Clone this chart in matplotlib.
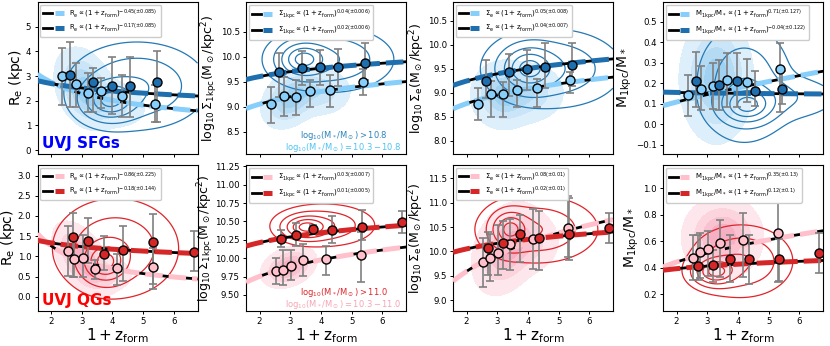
import numpy as np
import matplotlib
matplotlib.use('Agg')
import matplotlib.pyplot as plt
from matplotlib.legend_handler import HandlerTuple

# ---- data ----
# formation redshift bins (1 + z_form)
x_sf_lo = [2.37, 2.80, 3.19, 3.63, 4.31, 5.37]
x_sf_hi = [2.63, 3.37, 3.97, 4.57, 5.44]
x_q_lo = [2.54, 2.76, 3.04, 3.42, 4.16, 5.32]
x_q_hi = [2.71, 3.20, 3.74, 4.35, 5.33, 6.65]

# SFGs: Re
re_sf_lo = [3.00, 2.67, 2.32, 2.39, 2.20, 1.85]
re_sf_lo_p16 = [1.82, 1.73, 1.55, 1.69, 1.35, 1.12]
re_sf_lo_p84 = [4.14, 3.51, 3.13, 2.93, 3.04, 2.65]
re_sf_hi = [3.05, 2.77, 2.60, 2.60, 2.77]
re_sf_hi_p16 = [1.73, 1.53, 1.45, 1.35, 1.12]
re_sf_hi_p84 = [4.36, 3.31, 3.78, 3.78, 4.00]
# SFGs: Sigma_1kpc
s1_sf_lo = [9.05, 9.21, 9.20, 9.31, 9.33, 9.50]
s1_sf_lo_p16 = [8.68, 8.81, 8.83, 9.00, 9.00, 9.23]
s1_sf_lo_p84 = [9.39, 9.60, 9.53, 9.53, 9.63, 9.75]
s1_sf_hi = [9.70, 9.77, 9.79, 9.79, 9.88]
s1_sf_hi_p16 = [9.20, 9.43, 9.43, 9.41, 9.53]
s1_sf_hi_p84 = [10.07, 10.12, 10.13, 10.15, 10.27]
# SFGs: Sigma_e
se_sf_lo = [8.76, 8.97, 8.97, 9.06, 9.09, 9.26]
se_sf_lo_p16 = [8.42, 8.50, 8.50, 8.71, 8.71, 8.99]
se_sf_lo_p84 = [9.09, 9.24, 9.23, 9.26, 9.28, 9.44]
se_sf_hi = [9.24, 9.44, 9.49, 9.54, 9.58]
se_sf_hi_p16 = [8.88, 8.94, 9.06, 9.09, 9.13]
se_sf_hi_p84 = [9.68, 9.80, 9.88, 10.03, 10.03]
# SFGs: M1kpc/M*
m1_sf_lo = [0.143, 0.171, 0.187, 0.216, 0.206, 0.270]
m1_sf_lo_p16 = [0.043, 0.070, 0.074, 0.083, 0.110, 0.062]
m1_sf_lo_p84 = [0.240, 0.284, 0.300, 0.349, 0.317, 0.395]
m1_sf_hi = [0.210, 0.192, 0.211, 0.164, 0.171]
m1_sf_hi_p16 = [0.083, 0.070, 0.083, 0.090, 0.100]
m1_sf_hi_p84 = [0.354, 0.314, 0.349, 0.260, 0.260]

# QGs: Re
re_q_lo = [1.14, 0.94, 0.96, 0.68, 0.71, 0.75]
re_q_lo_p16 = [0.52, 0.50, 0.50, 0.45, 0.30, 0.19]
re_q_lo_p84 = [1.76, 1.45, 1.53, 0.92, 1.06, 1.20]
re_q_hi = [1.49, 1.39, 1.06, 1.16, 1.35, 1.12]
re_q_hi_p16 = [0.50, 0.83, 0.67, 0.40, 0.31, 0.63]
re_q_hi_p84 = [2.07, 1.96, 1.51, 1.76, 2.05, 1.63]
# QGs: Sigma_1kpc
s1_q_lo = [9.83, 9.84, 9.89, 9.98, 9.99, 10.05]
s1_q_lo_p16 = [9.65, 9.64, 9.70, 9.76, 9.77, 9.67]
s1_q_lo_p84 = [10.00, 10.11, 10.11, 10.20, 10.16, 10.35]
s1_q_hi = [10.26, 10.31, 10.40, 10.38, 10.43, 10.49]
s1_q_hi_p16 = [10.15, 10.16, 10.34, 10.21, 10.25, 10.34]
s1_q_hi_p84 = [10.39, 10.48, 10.45, 10.57, 10.65, 10.64]
# QGs: Sigma_e
se_q_lo = [9.78, 9.87, 9.97, 10.15, 10.25, 10.47]
se_q_lo_p16 = [9.27, 9.40, 9.52, 9.62, 9.64, 9.89]
se_q_lo_p84 = [10.28, 10.35, 10.55, 10.66, 10.86, 11.14]
se_q_hi = [10.06, 10.17, 10.35, 10.28, 10.35, 10.49]
se_q_hi_p16 = [9.51, 9.65, 9.79, 9.62, 9.82, 10.18]
se_q_hi_p84 = [10.39, 10.62, 10.75, 10.83, 11.10, 10.78]
# QGs: M1kpc/M*
m1_q_lo = [0.476, 0.522, 0.540, 0.590, 0.610, 0.665]
m1_q_lo_p16 = [0.31, 0.32, 0.34, 0.33, 0.33, 0.295]
m1_q_lo_p84 = [0.65, 0.66, 0.68, 0.76, 0.81, 0.90]
m1_q_hi = [0.416, 0.420, 0.466, 0.466, 0.466, 0.514]
m1_q_hi_p16 = [0.31, 0.295, 0.29, 0.28, 0.30, 0.36]
m1_q_hi_p84 = [0.65, 0.535, 0.65, 0.65, 0.62, 0.66]

# power-law fits y = amp * (1+z)^slope ; label exponent text
fit_amp = [[3.756, 3.032], [8.803, 9.439], [8.473, 8.989], [0.0666, 0.160],
           [2.293, 1.512], [9.531, 10.08], [9.037, 9.86], [0.348, 0.362]]
fit_slope = [[-0.45, -0.17], [0.04, 0.025], [0.05, 0.04], [0.71, -0.04],
             [-0.86, -0.18], [0.033, 0.0188], [0.086, 0.0278], [0.35, 0.12]]
fit_text = [['-0.45(\\pm0.085)', '-0.17(\\pm0.085)'],
            ['0.04(\\pm0.006)', '0.02(\\pm0.006)'],
            ['0.05(\\pm0.008)', '0.04(\\pm0.007)'],
            ['0.71(\\pm0.127)', '-0.04(\\pm0.122)'],
            ['-0.86(\\pm0.225)', '-0.18(\\pm0.144)'],
            ['0.03(\\pm0.007)', '0.01(\\pm0.005)'],
            ['0.08(\\pm0.01)', '0.02(\\pm0.01)'],
            ['0.35(\\pm0.13)', '0.12(\\pm0.1)']]

# density blobs (cx, cy, sx, sy, rho, weight) approximating the KDE contours
blob_fill = [
    [(3.1, 2.5, 0.42, 0.7, -0.3, 1.0), (3.9, 1.9, 0.55, 0.45, -0.2, 0.5)],
    [(3.0, 9.15, 0.4, 0.25, 0.3, 1.0), (3.9, 9.3, 0.5, 0.22, 0.0, 0.5)],
    [(3.2, 8.95, 0.45, 0.3, 0.0, 1.0), (4.1, 9.0, 0.5, 0.28, 0.0, 0.5)],
    [(3.3, 0.22, 0.5, 0.13, 0.0, 1.0)],
    [(3.0, 0.95, 0.4, 0.38, -0.5, 1.0), (3.7, 0.55, 0.45, 0.22, 0.0, 0.4)],
    [(2.95, 9.88, 0.38, 0.12, 0.3, 1.0)],
    [(3.3, 10.05, 0.48, 0.4, 0.3, 1.0), (4.0, 10.2, 0.5, 0.3, 0.0, 0.4)],
    [(3.5, 0.63, 0.55, 0.13, 0.0, 1.0)],
]
blob_line = [
    [(3.9, 2.0, 0.5, 0.45, 0.0, 1.0), (4.8, 2.6, 1.1, 0.85, 0.0, 0.45)],
    [(3.4, 9.95, 0.45, 0.2, 0.0, 1.0), (4.3, 9.95, 1.0, 0.32, 0.0, 0.45)],
    [(4.0, 9.5, 0.5, 0.27, 0.0, 1.0), (4.8, 9.5, 1.1, 0.4, 0.0, 0.45)],
    [(4.3, 0.09, 0.5, 0.05, 0.0, 1.0), (4.2, 0.2, 0.75, 0.14, 0.0, 0.45), (5.5, 0.13, 1.0, 0.06, 0.0, 0.2)],
    [(3.75, 0.85, 0.4, 0.28, 0.0, 1.0), (4.1, 1.2, 1.0, 0.6, 0.0, 0.45)],
    [(3.5, 10.42, 0.4, 0.09, 0.0, 1.0), (4.1, 10.45, 0.8, 0.14, 0.0, 0.45)],
    [(3.4, 10.45, 0.35, 0.22, 0.0, 1.0), (4.3, 10.45, 0.95, 0.33, 0.0, 0.45)],
    [(3.25, 0.37, 0.4, 0.06, 0.0, 1.0), (4.1, 0.45, 0.8, 0.13, 0.0, 0.45)],
]

ylims = [(-0.16, 6.0), (8.05, 11.1), (7.72, 10.89), (-0.144, 0.596),
         (-0.35, 3.26), (9.28, 11.27), (8.78, 11.77), (0.074, 1.176)]
yticks = [np.arange(0, 5.1, 1), np.arange(8.5, 10.6, 0.5), np.arange(8.0, 10.6, 0.5),
          np.arange(-0.1, 0.51, 0.1), np.arange(0, 3.01, 0.5), np.arange(9.5, 11.26, 0.25),
          np.arange(9.0, 11.51, 0.5), np.arange(0.2, 1.01, 0.2)]
ylabels = [r'$\mathrm{R_e\ (kpc)}$',
           r'$\mathrm{log_{10}\,\Sigma_{1kpc}(M_\odot/kpc^2)}$',
           r'$\mathrm{log_{10}\,\Sigma_e(M_\odot/kpc^2)}$',
           r'$\mathrm{M_{1kpc}/M_*}$']
qty = [r'R_e', r'\Sigma_{1kpc}', r'\Sigma_e', r'M_{1kpc}/M_*']

pts = [
    (x_sf_lo, re_sf_lo, re_sf_lo_p16, re_sf_lo_p84, x_sf_hi, re_sf_hi, re_sf_hi_p16, re_sf_hi_p84),
    (x_sf_lo, s1_sf_lo, s1_sf_lo_p16, s1_sf_lo_p84, x_sf_hi, s1_sf_hi, s1_sf_hi_p16, s1_sf_hi_p84),
    (x_sf_lo, se_sf_lo, se_sf_lo_p16, se_sf_lo_p84, x_sf_hi, se_sf_hi, se_sf_hi_p16, se_sf_hi_p84),
    (x_sf_lo, m1_sf_lo, m1_sf_lo_p16, m1_sf_lo_p84, x_sf_hi, m1_sf_hi, m1_sf_hi_p16, m1_sf_hi_p84),
    (x_q_lo, re_q_lo, re_q_lo_p16, re_q_lo_p84, x_q_hi, re_q_hi, re_q_hi_p16, re_q_hi_p84),
    (x_q_lo, s1_q_lo, s1_q_lo_p16, s1_q_lo_p84, x_q_hi, s1_q_hi, s1_q_hi_p16, s1_q_hi_p84),
    (x_q_lo, se_q_lo, se_q_lo_p16, se_q_lo_p84, x_q_hi, se_q_hi, se_q_hi_p16, se_q_hi_p84),
    (x_q_lo, m1_q_lo, m1_q_lo_p16, m1_q_lo_p84, x_q_hi, m1_q_hi, m1_q_hi_p16, m1_q_hi_p84),
]

XLIM = (1.56, 6.77)
c_sf_lo, c_sf_hi = '#87cefa', '#1f6fae'
c_q_lo, c_q_hi = '#ffc0cb', '#d62728'
fill_sf = ['#ddeffa', '#c9e5f7', '#b4dbf3', '#a0d1f0']
fill_q = ['#fde6ec', '#fbd4de', '#f9c2d1', '#f6afc3']
# y-label x positions (axes fraction) per panel
ylabel_x = [-0.08, -0.16, -0.16, -0.18, -0.13, -0.19, -0.17, -0.14]


def density(X, Y, comps):
    Z = np.zeros_like(X)
    for cx, cy, sx, sy, rho, w in comps:
        dx = (X - cx) / sx
        dy = (Y - cy) / sy
        Z += w * np.exp(-(dx ** 2 - 2 * rho * dx * dy + dy ** 2) / (2 * (1 - rho ** 2)))
    return Z / Z.max()


fig = plt.figure(figsize=(8.3, 3.46), dpi=100)
lefts = [37.5, 246, 453, 663]
rows = [(154, 2), (311, 165)]

for i in range(8):
    r, c = divmod(i, 4)
    bot, top = rows[r]
    ax = fig.add_axes([lefts[c] / 830, 1 - bot / 346, 160 / 830, (bot - top) / 346])
    ax.set_xlim(*XLIM)
    ax.set_ylim(*ylims[i])
    sf = r == 0
    clo, chi = (c_sf_lo, c_sf_hi) if sf else (c_q_lo, c_q_hi)

    gx = np.linspace(XLIM[0], XLIM[1], 300)
    gy = np.linspace(ylims[i][0], ylims[i][1], 300)
    X, Y = np.meshgrid(gx, gy)
    ax.contourf(X, Y, density(X, Y, blob_fill[i]), levels=[0.05, 0.25, 0.5, 0.75, 1.01],
                colors=fill_sf if sf else fill_q, zorder=1)
    ax.contour(X, Y, density(X, Y, blob_line[i]), levels=[0.04, 0.15, 0.35, 0.6, 0.85],
               colors='#2379b5' if sf else '#e0242a', linewidths=0.9, zorder=2)

    # fit lines
    handles = []
    for k, col in enumerate([clo, chi]):
        yy = fit_amp[i][k] * gx ** fit_slope[i][k]
        lb, = ax.plot(gx, yy, color='black', lw=2.0, zorder=3)
        lc, = ax.plot(gx, yy, color=col, lw=3.6, ls=(0, (3.5, 1.2)), zorder=3.5)
        handles.append((lb, lc))

    xl, yl, l16, l84, xh, yh, h16, h84 = pts[i]
    for xs, ys, p16, p84, col in [(xl, yl, l16, l84, clo), (xh, yh, h16, h84, chi)]:
        ys = np.array(ys)
        yerr = [ys - np.array(p16), np.array(p84) - ys]
        ax.errorbar(xs, ys, yerr=yerr, fmt='none', ecolor='grey', elinewidth=1.2,
                    capsize=3, capthick=1.2, zorder=4)
        ax.plot(xs, ys, 'o', ms=6.5, mfc=col, mec='black', mew=1.0, zorder=5)

    labels = [r'$\mathrm{%s \propto (1+z_{form})^{%s}}$' % (qty[c], fit_text[i][k]) for k in range(2)]
    ax.legend(handles, labels, loc='upper left', fontsize=5, handlelength=3.0,
              handler_map={tuple: HandlerTuple(ndivide=None)}, framealpha=1,
              borderaxespad=0.4, labelspacing=0.3)

    ax.set_yticks(yticks[i])
    ax.tick_params(labelsize=6.2, length=2.5, width=0.7, pad=2)
    ax.set_xticks([2, 3, 4, 5, 6])
    if sf:
        ax.set_xticklabels([])
    else:
        ax.set_xlabel(r'$\mathrm{1+z_{form}}$', fontsize=11, labelpad=0)
    ax.set_ylabel(ylabels[c], fontsize=9 if c in (1, 2) else 10)
    ax.yaxis.set_label_coords(ylabel_x[i], 0.5)

    if c == 0:
        ax.text(0.025, 0.04, 'UVJ SFGs' if sf else 'UVJ QGs', transform=ax.transAxes,
                color='blue' if sf else 'red', fontsize=11, fontweight='bold', zorder=6)
    if c == 1:
        if sf:
            t1, t2, ca, cb = r'> 10.8', r'= 10.3-10.8', '#2b83ba', '#4cc3f2'
        else:
            t1, t2, ca, cb = r'> 11.0', r'= 10.3-11.0', '#e0242a', '#f7a3b4'
        ax.text(0.61, 0.125, r'$\mathrm{log_{10}(M_*/M_\odot) %s}$' % t1,
                transform=ax.transAxes, color=ca, fontsize=6.0, ha='center', va='center', zorder=6)
        ax.text(0.61, 0.045, r'$\mathrm{log_{10}(M_*/M_\odot) %s}$' % t2,
                transform=ax.transAxes, color=cb, fontsize=6.0, ha='center', va='center', zorder=6)

fig.savefig('out.png', dpi=100)
